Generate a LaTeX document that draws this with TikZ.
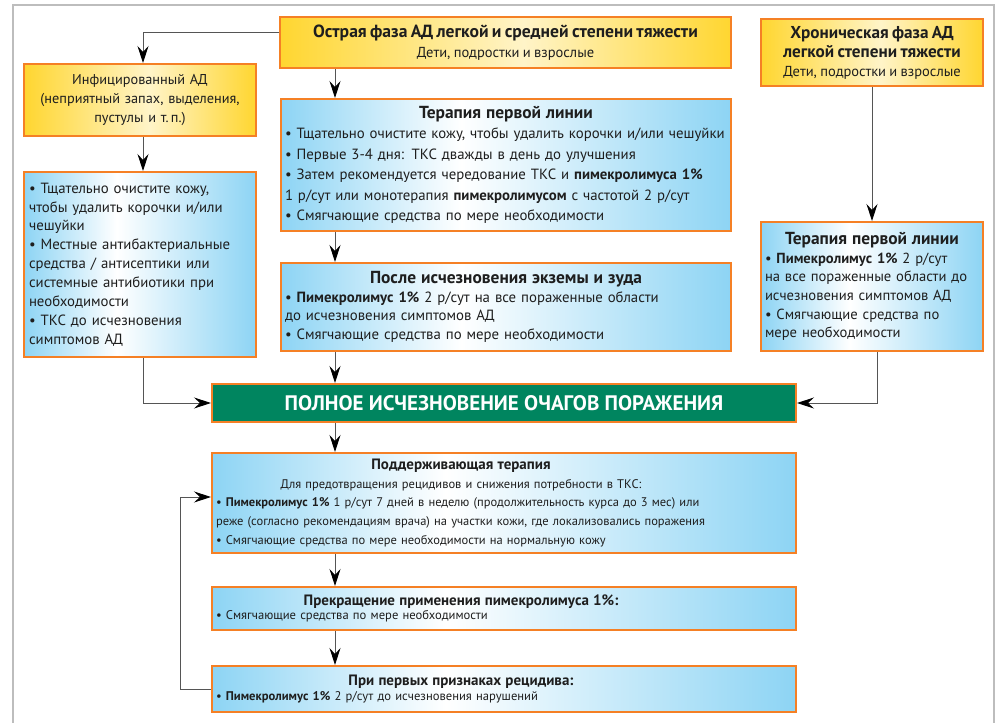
\documentclass[tikz,border=0pt]{standalone}
\usepackage{fontspec}
\setmainfont{PT Sans}
\usetikzlibrary{arrows.meta,calc}
\definecolor{orB}{HTML}{F58025}
\definecolor{blE}{HTML}{8DD4F4}
\definecolor{yeE}{HTML}{FFD630}
\definecolor{yeM}{HTML}{FFF4C8}
\definecolor{grF}{HTML}{00855F}
\definecolor{txt}{HTML}{1E1E1E}
\definecolor{lnC}{HTML}{555555}
\definecolor{frC}{HTML}{BDBDBD}
\pgfdeclarehorizontalshading{bshade}{100bp}{color(0bp)=(blE); color(25bp)=(blE); color(45bp)=(white); color(75bp)=(blE); color(100bp)=(blE)}
\pgfdeclarehorizontalshading{yshade}{100bp}{color(0bp)=(yeE); color(25bp)=(yeE); color(52bp)=(yeM); color(75bp)=(yeE); color(100bp)=(yeE)}
\newcommand{\fz}[2]{\fontsize{#1}{#2}\selectfont}
\tikzset{
  boxbase/.style={draw=orB, line width=2pt, inner sep=0pt, text=txt,
    execute at begin node={\setlength{\parindent}{0pt}\raggedright\hyphenpenalty=10000\exhyphenpenalty=10000}},
  bbox/.style={boxbase, shade, shading=bshade},
  ybox/.style={boxbase, shade, shading=yshade},
  gbox/.style={draw=orB, line width=2pt, fill=grF, text=white, inner sep=0pt},
  arr/.style={draw=lnC, line width=0.9pt, -{Stealth[length=17pt, width=11pt, inset=6pt, color=black]}},
  frame/.style={draw=frC, line width=1.5pt}
}
\newcommand{\hd}[1]{{\centering\bfseries #1\par}}
% header centred over the left text column of the lower boxes
\newcommand{\hdl}[1]{\makebox[490pt][c]{#1}\par}
\begin{document}
\begin{tikzpicture}[x=1pt, y=-1pt]
\useasboundingbox (0,0) rectangle (1007,723);
\fill[white] (0,0) rectangle (1007,723);
\draw[frame] (13,723) -- (13,5) -- (994,5) -- (994,723);

% top boxes
\node[ybox, minimum width=451, minimum height=51, text width=445] (acute) at (505.5,42.5)
  {\hd{\fz{17.6}{20}Острая фаза АД легкой и средней степени тяжести}{\centering\fz{14.5}{20}Дети, подростки и взрослые\par}};
\node[ybox, minimum width=222, minimum height=67, text width=216] (chron) at (872,52.5)
  {\hd{\fz{17.2}{19}Хроническая фаза АД\\легкой степени тяжести}{\centering\fz{14.5}{19}Дети, подростки и взрослые\par}};
\node[ybox, minimum width=232, minimum height=72, text width=224, font=\fz{14.3}{18.8}] (infect) at (140,100)
  {{\centering Инфицированный АД\\(неприятный запах, выделения,\\пустулы и т.\,п.)\par}};

% blue boxes
\node[bbox, minimum width=232, minimum height=185, text width=222, font=\fz{14.8}{18.9}] (lblue) at (140,264.5)
  {• Тщательно очистите кожу,\\чтобы удалить корочки и/или\\чешуйки\\• Местные антибактериальные\\средства / антисептики или\\системные антибиотики при\\необходимости\\• ТКС до исчезновения\\симптомов АД};
\node[bbox, minimum width=450, minimum height=132, text width=442, font=\fz{14.8}{20.5}] (first) at (506,165)
  {\hd{\fz{17.4}{20.5}Терапия первой линии}
   • Тщательно очистите кожу, чтобы удалить корочки и/или чешуйки\\
   • Первые 3-4 дня: ТКС дважды в день до улучшения\\
   • Затем рекомендуется чередование ТКС и \textbf{пимекролимуса 1\%}\\
   1 р/сут или монотерапия \textbf{пимекролимусом} с частотой 2 р/сут\\
   • Смягчающие средства по мере необходимости};
\node[bbox, minimum width=450, minimum height=88, text width=442, font=\fz{14.8}{18.7}] (after) at (506,307)
  {\hd{\fz{17.4}{18.7}После исчезновения экземы и зуда}
   • \textbf{Пимекролимус 1\%} 2 р/сут на все пораженные области\\
   до исчезновения симптомов АД\\
   • Смягчающие средства по мере необходимости};
\node[bbox, minimum width=222, minimum height=129, text width=214, font=\fz{14.6}{18.7}] (rblue) at (872,286.5)
  {\hd{\fz{17.4}{18.7}Терапия первой линии}
   • \textbf{Пимекролимус 1\%} 2 р/сут\\
   на все пораженные области до\\
   исчезновения симптомов АД\\
   • Смягчающие средства по\\
   мере необходимости};

% green
\node[gbox, minimum width=584, minimum height=38, font=\fz{21}{22}\bfseries] (clear) at (504,403)
  {ПОЛНОЕ ИСЧЕЗНОВЕНИЕ ОЧАГОВ ПОРАЖЕНИЯ};

% bottom boxes
\node[bbox, minimum width=584, minimum height=100, text width=576, font=\fz{12.5}{18.7}] (maint) at (504,503)
  {\hdl{\fz{15}{18.7}\bfseries Поддерживающая терапия}
   \hdl{Для предотвращения рецидивов и снижения потребности в ТКС:}
   • \textbf{Пимекролимус 1\%} 1 р/сут 7 дней в неделю (продолжительность курса до 3 мес) или\\
   реже (согласно рекомендациям врача) на участки кожи, где локализовались поражения\\
   • Смягчающие средства по мере необходимости на нормальную кожу};
\node[bbox, minimum width=584, minimum height=43, text width=576, font=\fz{12.6}{14.5}] (stop) at (504,608.5)
  {\hdl{\fz{15}{14.5}\bfseries Прекращение применения пимекролимуса 1\%:}
   • Смягчающие средства по мере необходимости};
\node[bbox, minimum width=584, minimum height=46, text width=576, font=\fz{12.6}{15}] (relap) at (504,689)
  {\hdl{\fz{15}{15}\bfseries При первых признаках рецидива:}
   • \textbf{Пимекролимус 1\%} 2 р/сут до исчезновения нарушений};

% connector columns
\coordinate (cx) at (335,0);
\coordinate (lx) at (143,0);
\coordinate (rx) at (877,0);
\coordinate (fb) at (180,497);

% connectors
\draw[arr] ([yshift=10pt]acute.west) -| (infect.north -| lx);
\draw[arr] (acute.south -| cx) -- (first.north -| cx);
\draw[arr] (first.south -| cx) -- (after.north -| cx);
\draw[arr] (after.south -| cx) -- (clear.north -| cx);
\draw[arr] (infect.south -| lx) -- (lblue.north -| lx);
\draw[arr] (lblue.south -| lx) |- (clear.west);
\draw[arr] (chron.south) -- (rblue.north);
\draw[arr] (rblue.south -| rx) |- (clear.east);
\draw[arr] (clear.south -| cx) -- (maint.north -| cx);
\draw[arr] (maint.south -| cx) -- (stop.north -| cx);
\draw[arr] (stop.south -| cx) -- (relap.north -| cx);
\draw[arr] (relap.west) -| (fb) -- (fb -| maint.west);
\end{tikzpicture}
\end{document}
